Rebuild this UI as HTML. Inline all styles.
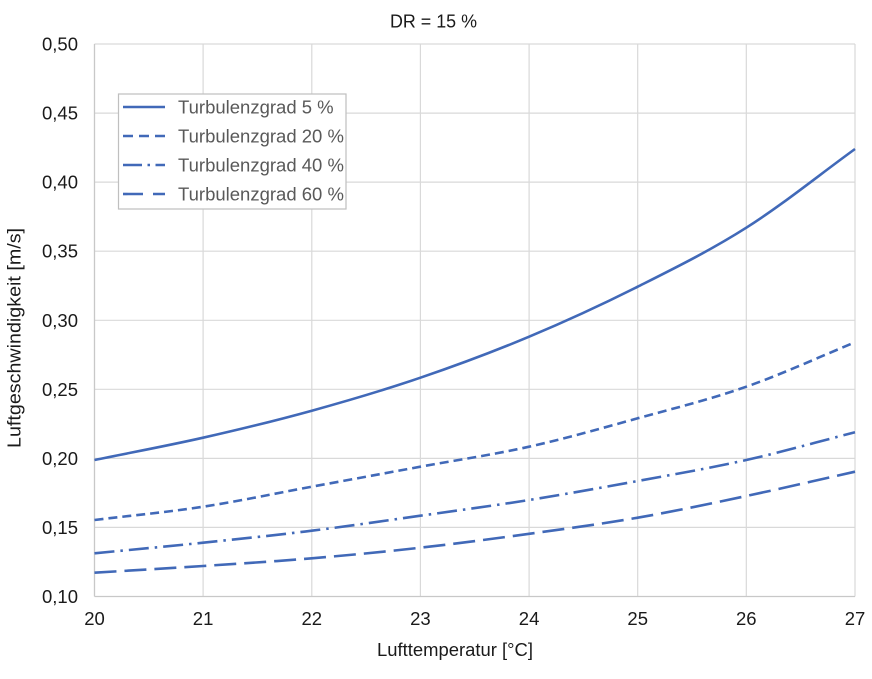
<!DOCTYPE html>
<html><head><meta charset="utf-8"><style>
html,body{margin:0;padding:0;background:#fff;}
svg{display:block;}
text{font-family:"Liberation Sans",Arial,sans-serif;}
</style></head><body>
<svg width="872" height="679" viewBox="0 0 872 679" xmlns="http://www.w3.org/2000/svg">
<rect width="872" height="679" fill="#fff"/>
<text x="433.5" y="27.7" font-size="18.5" fill="#1a1a1a" text-anchor="middle" textLength="87" lengthAdjust="spacingAndGlyphs">DR = 15 %</text>
<g stroke="#d9d9d9" stroke-width="1.2" fill="none">
<line x1="94.5" y1="44" x2="855" y2="44"/>
<line x1="94.5" y1="113.1" x2="855" y2="113.1"/>
<line x1="94.5" y1="182.1" x2="855" y2="182.1"/>
<line x1="94.5" y1="251.2" x2="855" y2="251.2"/>
<line x1="94.5" y1="320.3" x2="855" y2="320.3"/>
<line x1="94.5" y1="389.3" x2="855" y2="389.3"/>
<line x1="94.5" y1="458.4" x2="855" y2="458.4"/>
<line x1="94.5" y1="527.4" x2="855" y2="527.4"/>
<line x1="203.1" y1="44" x2="203.1" y2="596.5"/>
<line x1="311.8" y1="44" x2="311.8" y2="596.5"/>
<line x1="420.4" y1="44" x2="420.4" y2="596.5"/>
<line x1="529.1" y1="44" x2="529.1" y2="596.5"/>
<line x1="637.7" y1="44" x2="637.7" y2="596.5"/>
<line x1="746.3" y1="44" x2="746.3" y2="596.5"/>
<line x1="855" y1="44" x2="855" y2="596.5"/>
</g>
<g stroke="#c8c8c8" stroke-width="1.3">
<line x1="94.5" y1="44" x2="94.5" y2="596.5"/>
<line x1="94.5" y1="596.5" x2="855" y2="596.5"/>
</g>
<g font-size="18.5" fill="#1a1a1a" text-anchor="end">
<text x="78" y="50.5">0,50</text>
<text x="78" y="119.6">0,45</text>
<text x="78" y="188.6">0,40</text>
<text x="78" y="257.7">0,35</text>
<text x="78" y="326.8">0,30</text>
<text x="78" y="395.8">0,25</text>
<text x="78" y="464.9">0,20</text>
<text x="78" y="533.9">0,15</text>
<text x="78" y="603">0,10</text>
</g>
<g font-size="18.5" fill="#1a1a1a" text-anchor="middle">
<text x="94.5" y="625">20</text>
<text x="203.1" y="625">21</text>
<text x="311.8" y="625">22</text>
<text x="420.4" y="625">23</text>
<text x="529.1" y="625">24</text>
<text x="637.7" y="625">25</text>
<text x="746.3" y="625">26</text>
<text x="855" y="625">27</text>
</g>
<text x="455" y="656" font-size="18.5" fill="#1a1a1a" text-anchor="middle" textLength="156" lengthAdjust="spacingAndGlyphs">Lufttemperatur [°C]</text>
<text transform="translate(20.5,338) rotate(-90)" x="0" y="0" font-size="18.5" fill="#1a1a1a" text-anchor="middle" textLength="220" lengthAdjust="spacingAndGlyphs">Luftgeschwindigkeit [m/s]</text>
<g fill="none" stroke="#4169b8" stroke-width="2.6">
<path d="M94.5,460 C130.7,452.57 166.9,445.92 203.1,437.7 C239.3,429.48 275.6,420.7 311.8,410.7 C348,400.7 384.2,390.03 420.4,377.7 C456.6,365.37 492.9,351.87 529.1,336.7 C565.3,321.53 601.5,304.87 637.7,286.7 C673.9,268.53 710.1,250.65 746.3,227.7 C782.5,204.75 818.8,175.23 855,149"/>
<path stroke-dasharray="9,5" d="M94.5,520 C130.7,515.57 166.9,512.25 203.1,506.7 C239.3,501.15 275.6,493.37 311.8,486.7 C348,480.03 384.2,473.37 420.4,466.7 C456.6,460.03 492.9,454.77 529.1,446.7 C565.3,438.63 601.5,428.3 637.7,418.3 C673.9,408.3 710.1,399.37 746.3,386.7 C782.5,374.03 818.8,357.1 855,342.3"/>
<path stroke-dasharray="20,6,2.5,6" d="M94.5,553.3 C130.7,549.77 166.9,546.47 203.1,542.7 C239.3,538.93 275.6,535.2 311.8,530.7 C348,526.2 384.2,520.82 420.4,515.7 C456.6,510.58 492.9,505.78 529.1,500 C565.3,494.22 601.5,487.67 637.7,481 C673.9,474.33 710.1,468.12 746.3,460 C782.5,451.88 818.8,441.53 855,432.3"/>
<path stroke-dasharray="22,8" d="M94.5,572.7 C130.7,570.47 166.9,568.4 203.1,566 C239.3,563.6 275.6,561.35 311.8,558.3 C348,555.25 384.2,551.78 420.4,547.7 C456.6,543.62 492.9,538.8 529.1,533.8 C565.3,528.8 601.5,524 637.7,517.7 C673.9,511.4 710.1,503.67 746.3,496 C782.5,488.33 818.8,479.8 855,471.7"/>
</g>
<rect x="118.5" y="94" width="227.5" height="115" fill="#fff" stroke="#bfbfbf" stroke-width="1.2"/>
<g fill="none" stroke="#4169b8" stroke-width="2.6">
<line x1="123" y1="107" x2="165" y2="107"/>
<line x1="123" y1="136" x2="165" y2="136" stroke-dasharray="10,6"/>
<line x1="123" y1="165" x2="165" y2="165" stroke-dasharray="19,5.5,2.5,5.5"/>
<line x1="123" y1="194" x2="165" y2="194" stroke-dasharray="20,10"/>
</g>
<g font-size="18.5" fill="#595959">
<text x="178" y="113.5">Turbulenzgrad 5 %</text>
<text x="178" y="142.5">Turbulenzgrad 20 %</text>
<text x="178" y="171.5">Turbulenzgrad 40 %</text>
<text x="178" y="200.5">Turbulenzgrad 60 %</text>
</g>
</svg>
</body></html>
